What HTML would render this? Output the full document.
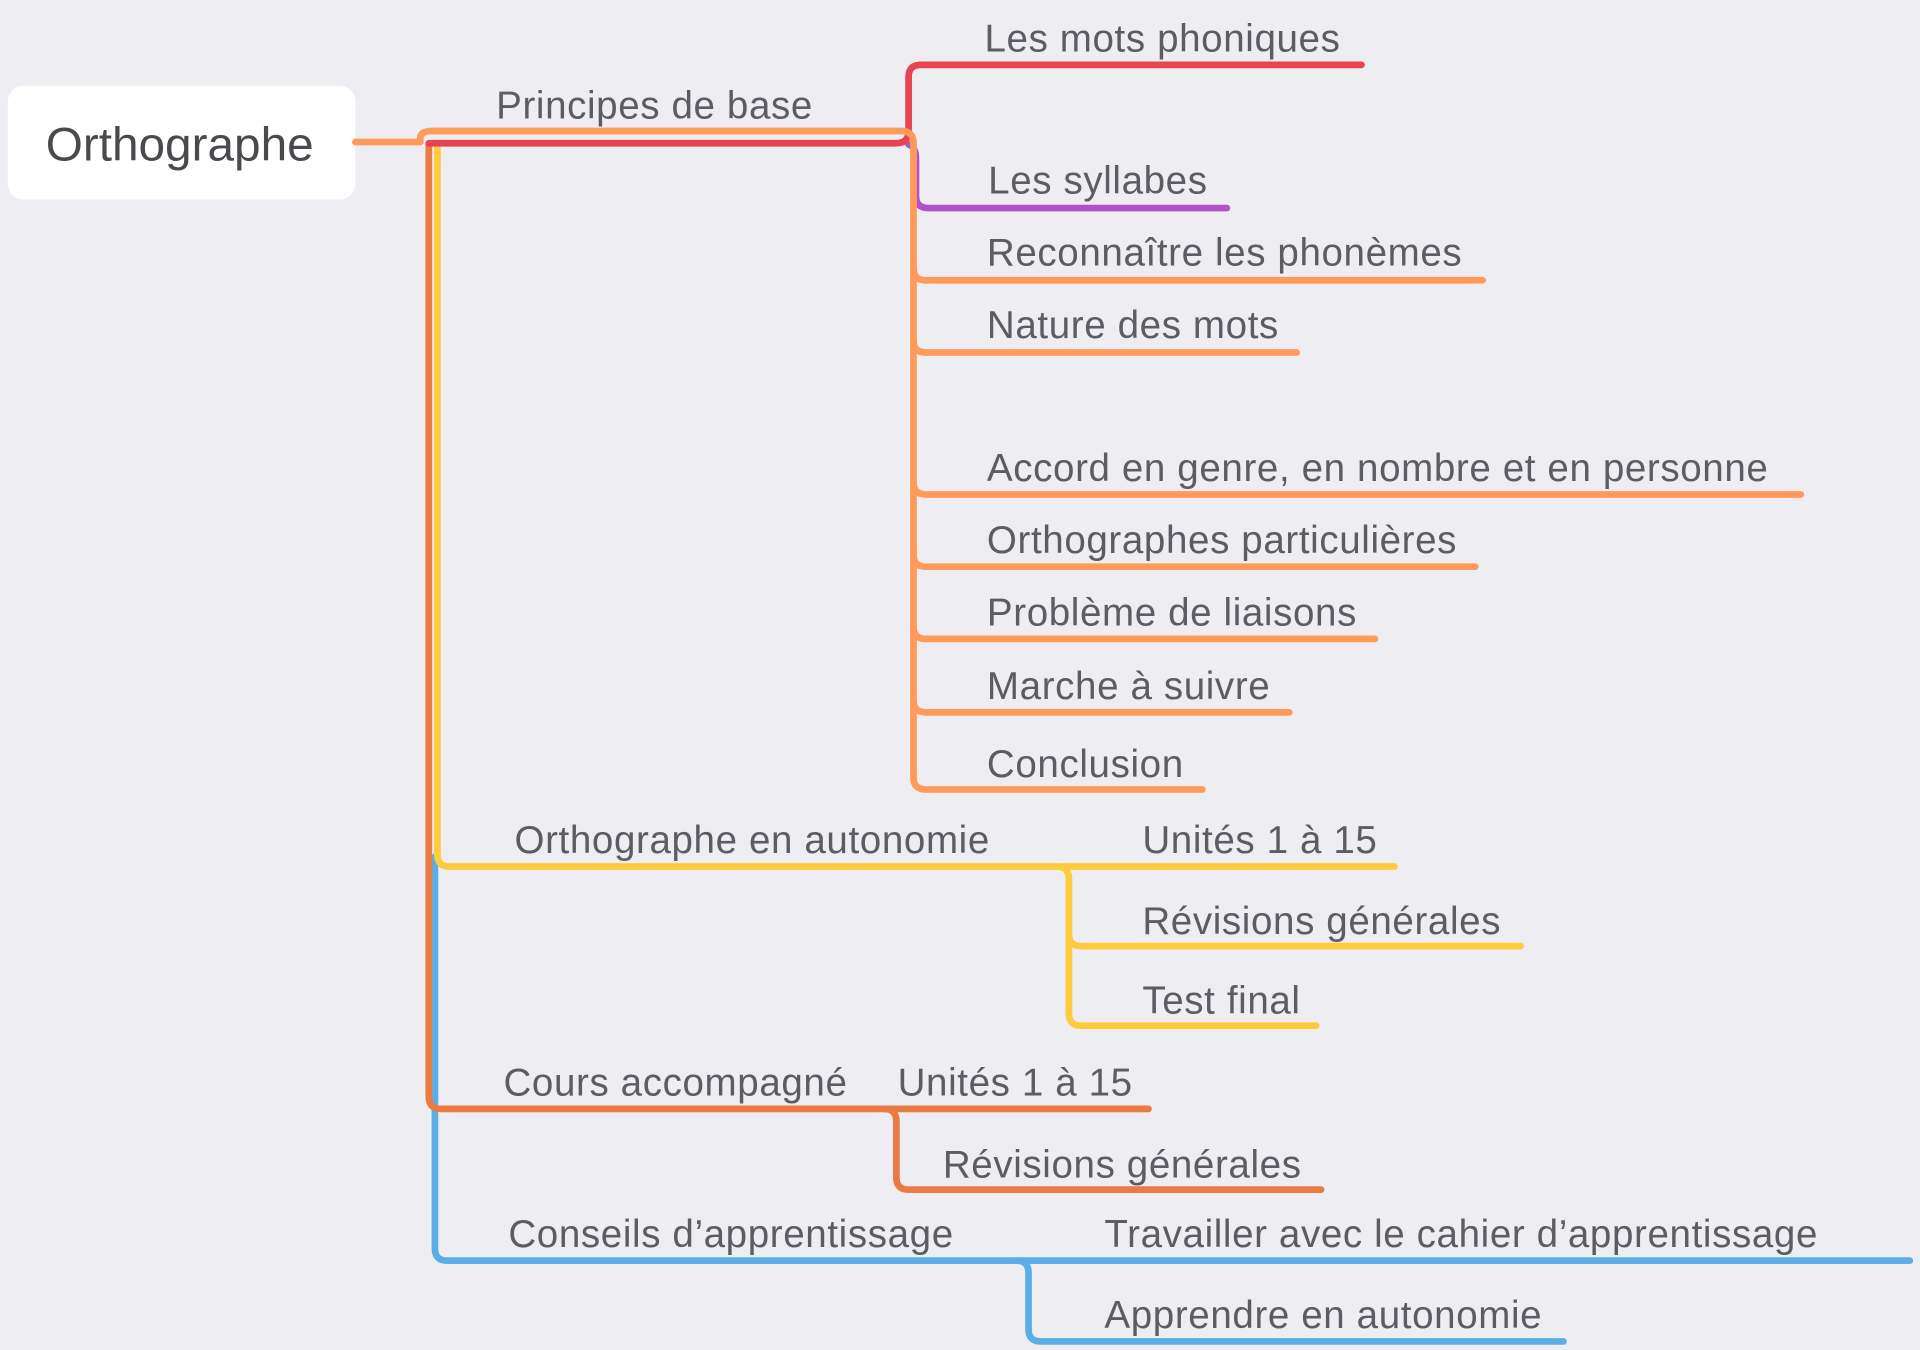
<!DOCTYPE html>
<html><head><meta charset="utf-8"><style>
html,body{margin:0;padding:0;background:#eeedf2;}
svg{display:block;}
text{font-family:"Liberation Sans",Arial,sans-serif;fill:#5c5c62;font-size:31.5px;letter-spacing:0.5px;}
</style></head><body>
<svg width="1920" height="1350" viewBox="0 0 1568 1103" xmlns="http://www.w3.org/2000/svg">
<rect width="1568" height="1103" fill="#eeedf2"/>
<rect x="6" y="70" width="284" height="93" rx="13" fill="#ffffff"/>
<text x="37" y="131" style="font-size:39px;letter-spacing:0;fill:#4a4a4e">Orthographe</text>
<g fill="none" stroke-width="5.5" stroke-linecap="round" stroke-linejoin="round">
<path d="M355 700 V1020 Q355 1030 365 1030 H1560" stroke="#5aaee6"/>
<path d="M830 1030 Q840 1030 840 1040 V1086 Q840 1096 850 1096 H1277" stroke="#5aaee6"/>
<path d="M350 118 V896 Q350 906 360 906 H938" stroke="#e87a42"/>
<path d="M722 906 Q732 906 732 916 V962 Q732 972 742 972 H1079" stroke="#e87a42"/>
<path d="M357 118 V698 Q357 708 367 708 H1139" stroke="#ffcb3d"/>
<path d="M863 708 Q873 708 873 718 V828 Q873 838 883 838 H1075" stroke="#ffcb3d"/>
<path d="M873 763 Q873 773 883 773 H1242" stroke="#ffcb3d"/>
<path d="M742 118 Q748 120 748 130 V160 Q748 170 758 170 H1002" stroke="#b052c8"/>
<path d="M350 117 H732 Q742 117 742 107 V63 Q742 53 752 53 H1112" stroke="#e8444f"/>
<path d="M290 116 H343 V113 Q343 107 353 107 H736 Q746 107 746 117 V635 Q746 645 756 645 H982" stroke="#ff9a5a"/>
<path d="M746 219 Q746 229 756 229 H1211" stroke="#ff9a5a"/>
<path d="M746 278 Q746 288 756 288 H1059" stroke="#ff9a5a"/>
<path d="M746 394 Q746 404 756 404 H1471" stroke="#ff9a5a"/>
<path d="M746 453 Q746 463 756 463 H1205" stroke="#ff9a5a"/>
<path d="M746 512 Q746 522 756 522 H1123" stroke="#ff9a5a"/>
<path d="M746 572 Q746 582 756 582 H1053" stroke="#ff9a5a"/>
</g>
<text x="405" y="97">Principes de base</text>
<text x="804" y="42">Les mots phoniques</text>
<text x="807" y="158">Les syllabes</text>
<text x="806" y="217">Reconnaître les phonèmes</text>
<text x="806" y="276">Nature des mots</text>
<text x="806" y="393">Accord en genre, en nombre et en personne</text>
<text x="806" y="452">Orthographes particulières</text>
<text x="806" y="511">Problème de liaisons</text>
<text x="806" y="571">Marche à suivre</text>
<text x="806" y="635">Conclusion</text>
<text x="420" y="697">Orthographe en autonomie</text>
<text x="933" y="697">Unités 1 à 15</text>
<text x="933" y="763">Révisions générales</text>
<text x="933" y="828">Test final</text>
<text x="411" y="895">Cours accompagné</text>
<text x="733" y="895">Unités 1 à 15</text>
<text x="770" y="962">Révisions générales</text>
<text x="415" y="1019">Conseils d’apprentissage</text>
<text x="902" y="1019">Travailler avec le cahier d’apprentissage</text>
<text x="902" y="1085">Apprendre en autonomie</text>
</svg>
</body></html>
